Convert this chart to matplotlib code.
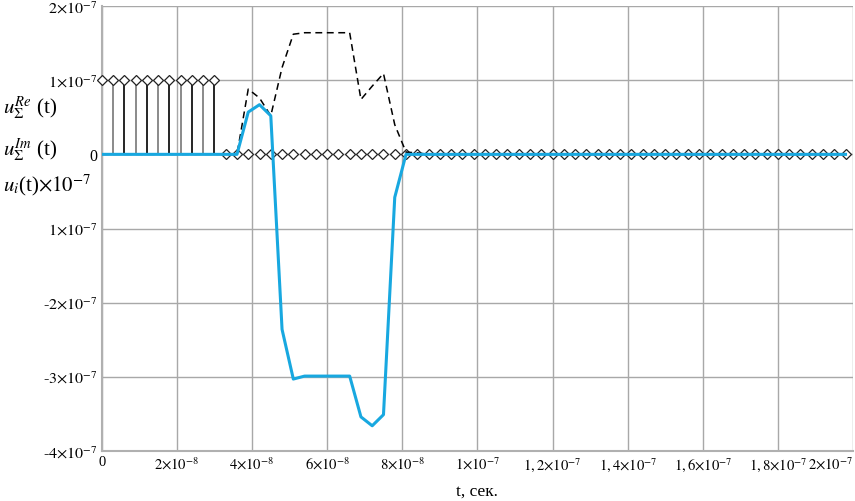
import numpy as np
import matplotlib
matplotlib.use("Agg")
import matplotlib.pyplot as plt

plt.rcParams["mathtext.fontset"] = "stix"
plt.rcParams["font.family"] = ["Liberation Serif", "DejaVu Serif"]

# time samples, step 3 ns
t_ns = np.arange(0, 199, 3)

# input pulse u_i(t) x 1e-7 (in units of 1e-7)
u_in = [1.0] * 11 + [0.0] * 56

# imaginary part (blue), units of 1e-7, samples 0..81 ns, then zero
u_im_head = [0, 0, 0, 0, 0, 0, 0, 0, 0, 0, 0, 0, 0,
             0.57, 0.67, 0.52, -2.36, -3.03, -2.99, -2.99, -2.99, -2.99,
             -2.99, -3.54, -3.66, -3.51, -0.58, 0.0]
# real part (dashed), units of 1e-7
u_re_head = [0, 0, 0, 0, 0, 0, 0, 0, 0, 0, 0, 0, 0,
             0.88, 0.76, 0.52, 1.17, 1.62, 1.64, 1.64, 1.64, 1.64,
             1.64, 0.74, 0.92, 1.09, 0.40, 0.03, 0.02]

x_ticks = [0, 2e-8, 4e-8, 6e-8, 8e-8, 1e-7, 1.2e-7, 1.4e-7, 1.6e-7, 1.8e-7, 2e-7]
x_labels = ["0", r"$2{\times}10^{-8}$", r"$4{\times}10^{-8}$", r"$6{\times}10^{-8}$",
            r"$8{\times}10^{-8}$", r"$1{\times}10^{-7}$", r"$1,2{\times}10^{-7}$",
            r"$1,4{\times}10^{-7}$", r"$1,6{\times}10^{-7}$", r"$1,8{\times}10^{-7}$",
            r"$2{\times}10^{-7}$"]
y_ticks = [2e-7, 1e-7, 0, -1e-7, -2e-7, -3e-7, -4e-7]
y_labels = [r"$2{\times}10^{-7}$", r"$1{\times}10^{-7}$", "0", r"$1{\times}10^{-7}$",
            r"-$2{\times}10^{-7}$", r"-$3{\times}10^{-7}$", r"-$4{\times}10^{-7}$"]

t = t_ns * 1e-9
u_in = np.array(u_in) * 1e-7
u_im = np.zeros(len(t))
u_im[:len(u_im_head)] = u_im_head
u_im *= 1e-7
u_re = np.zeros(len(t))
u_re[:len(u_re_head)] = u_re_head
u_re *= 1e-7

fig = plt.figure(figsize=(8.55, 5.02), dpi=100)
ax = fig.add_axes([0.119, 0.0996, 0.8787, 0.8864])

ax.set_xlim(0, 2e-7)
ax.set_ylim(-4e-7, 2e-7)
ax.set_xticks(x_ticks)
ax.set_xticklabels(x_labels, fontsize=10.5)
ax.get_xticklabels()[-1].set_horizontalalignment("right")
ax.set_yticks(y_ticks)
ax.set_yticklabels(y_labels, fontsize=11.5)
ax.tick_params(length=0, pad=3)
ax.grid(True, color="#a8a8a8", linewidth=1.0)
ax.set_axisbelow(True)
for s in ["top", "right"]:
    ax.spines[s].set_visible(False)
for s in ["left", "bottom"]:
    ax.spines[s].set_color("#b0b0b0")
    ax.spines[s].set_linewidth(1.5)

# stems of input pulse
on = u_in != 0
stem_colors = ["black" if i % 2 == 0 else "#777777" for i in range(on.sum())]
ax.vlines(t[on], 0, u_in[on], colors=stem_colors, linewidth=1.2, zorder=2)
ax.plot(t, u_in, linestyle="none", marker="D", markersize=5.5,
        markerfacecolor="white", markeredgecolor="#222222",
        markeredgewidth=0.9, zorder=3, clip_on=False)

ax.plot(t, u_re, color="black", linestyle=(0, (4.5, 3)), linewidth=1.1, zorder=4)
ax.plot(t, u_im, color="#18a8e0", linewidth=2.2, zorder=5)

ax.set_xlabel("t, сек.", fontsize=12.5, labelpad=7)

fig.text(0.003, 0.785, r"$u_{\Sigma}^{Re}$ (t)", fontsize=15, va="center", ha="left")
fig.text(0.003, 0.700, r"$u_{\Sigma}^{Im}$ (t)", fontsize=15, va="center", ha="left")
fig.text(0.003, 0.630, r"$u_{i}$(t)$\times10^{-7}$", fontsize=15, va="center", ha="left")

fig.savefig("out.png", dpi=100)
